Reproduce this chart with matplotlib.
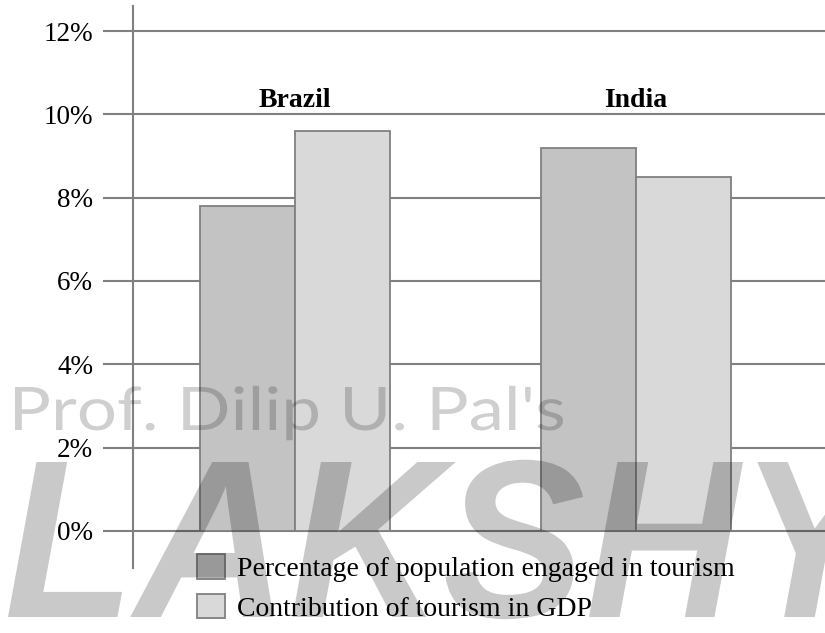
import numpy as np
import matplotlib
matplotlib.use('Agg')
import matplotlib.pyplot as plt
from matplotlib.patches import Patch, PathPatch
from matplotlib.textpath import TextPath
from matplotlib.font_manager import FontProperties
from matplotlib.transforms import Affine2D

# datos
paises = ['Brazil', 'India']
poblacion = [7.8, 9.2]      # Percentage of population engaged in tourism
pib = [9.6, 8.5]            # Contribution of tourism in GDP
ticks = [0, 2, 4, 6, 8, 10, 12]
series = ['Percentage of population engaged in tourism',
          'Contribution of tourism in GDP']

plt.rcParams['font.family'] = ['Liberation Serif', 'DejaVu Serif']

W, H = 825, 633
fig = plt.figure(figsize=(W / 100, H / 100), dpi=100)
# ejes en pixeles: eje y en x=133, de y=6 a y=568
ax = fig.add_axes([133 / W, 1 - 568 / H, (W - 133) / W, (568 - 6) / H])

gris = '#808080'
x = np.arange(len(paises))
ancho = 0.28
ax.bar(x - ancho / 2, poblacion, ancho, color='#c3c3c3', edgecolor=gris, linewidth=1.3, zorder=3)
ax.bar(x + ancho / 2, pib, ancho, color='#d9d9d9', edgecolor=gris, linewidth=1.3, zorder=3)

px = 2 / 83.3  # % por pixel
ax.set_ylim(0 - 37 * px, 12 + 25 * px)
ax.set_xlim(-(295 - 133) / 341, 1 + (825 - 636) / 341)

ax.set_yticks(ticks)
ax.set_yticklabels(['{}%'.format(t) for t in ticks], fontsize=19.5)
ax.yaxis.grid(True, color=gris, linewidth=1.5, zorder=1)
ax.tick_params(axis='y', length=21.6, width=1.5, color=gris, pad=7)
ax.set_xticks([])
for s in ['top', 'right', 'bottom']:
    ax.spines[s].set_visible(False)
ax.spines['left'].set_color(gris)
ax.spines['left'].set_linewidth(1.5)

for i, p in enumerate(paises):
    ax.text(x[i], 10.18, p, ha='center', va='baseline', fontsize=20, fontweight='bold')

handles = [Patch(facecolor='#c3c3c3', edgecolor=gris, linewidth=1.3),
           Patch(facecolor='#d9d9d9', edgecolor=gris, linewidth=1.3)]
fig.legend(handles, series, loc='upper left', bbox_to_anchor=(197 / W, 1 - 554 / H),
           frameon=False, fontsize=20, handlelength=1.0, handleheight=1.0,
           handletextpad=0.45, labelspacing=0.42, borderaxespad=0, borderpad=0)


# marca de agua, escalada en pixeles
def marca(texto, ref, x0, base, alto, ancho_ref, prop, alpha):
    tp = TextPath((0, 0), texto, size=1, prop=prop)
    rp = TextPath((0, 0), ref, size=1, prop=prop)
    cap = TextPath((0, 0), texto[0], size=1, prop=prop).get_extents().y1
    ext = rp.get_extents()
    sy = alto / cap
    sx = ancho_ref / (ext.x1 - ext.x0)
    tr = Affine2D().scale(sx, sy).translate(x0 - ext.x0 * sx, H - base)
    fig.add_artist(PathPatch(tp, transform=tr, facecolor='black', edgecolor='none',
                             alpha=alpha, zorder=10))


marca("Prof. Dilip U. Pal's", "Prof. Dilip U. Pal's", 15, 430, 43, 548,
      FontProperties(family='Lato'), 0.19)
marca('LAKSHYA', 'LAKSH', 8, 617, 155, 735,
      FontProperties(family='Liberation Sans', weight='bold', style='italic'), 0.21)

fig.savefig('out.png', dpi=100)
